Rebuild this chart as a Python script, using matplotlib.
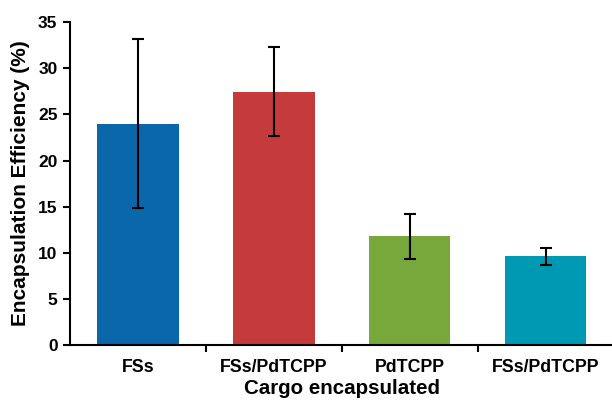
import matplotlib
matplotlib.use("Agg")
import matplotlib.pyplot as plt
import numpy as np

categories = ["FSs", "FSs/PdTCPP", "PdTCPP", "FSs/PdTCPP"]
values = [24.0, 27.4, 11.8, 9.6]
err_low = [14.9, 22.7, 9.3, 8.7]
err_high = [33.2, 32.3, 14.2, 10.5]
colors = ["#0A67A9", "#C53A3B", "#78A83B", "#0099B3"]

plt.rcParams['font.family'] = ['Liberation Sans', 'DejaVu Sans']
fig = plt.figure(figsize=(6.12, 4.03), dpi=100)
ax = fig.add_axes([0.1144, 0.1439, 0.888, 0.801])

x = np.arange(len(categories))
yerr = np.array([np.array(values) - np.array(err_low), np.array(err_high) - np.array(values)])
ax.bar(x, values, width=0.6, color=colors, zorder=2)
ax.errorbar(x, values, yerr=yerr, fmt='none', ecolor='black', elinewidth=1.5,
            capsize=4, capthick=1.5, zorder=3)

ax.set_xlim(-0.5, len(categories) - 0.5)
ax.set_ylim(0, 35)
ax.set_yticks(np.arange(0, 36, 5))
ax.set_xticks(x)
ax.set_xticklabels(categories, fontsize=12.8, fontweight='bold')
ax.tick_params(axis='x', length=0, pad=10)
ax.set_xticks(np.arange(0.5, len(categories) - 0.5, 1), minor=True)
ax.tick_params(axis='x', which='minor', length=5, width=1.5, direction='out')
ax.tick_params(axis='y', length=5, width=1.5, direction='out', labelsize=12.5, pad=4)
for lbl in ax.get_yticklabels():
    lbl.set_fontweight('bold')

for s in ['top', 'right']:
    ax.spines[s].set_visible(False)
for s in ['left', 'bottom']:
    ax.spines[s].set_linewidth(1.5)

ax.set_ylabel("Encapsulation Efficiency (%)", fontsize=15, fontweight='bold', labelpad=6)
ax.set_xlabel("Cargo encapsulated", fontsize=14.8, fontweight='bold', labelpad=2)

fig.savefig("out.png", dpi=100)
